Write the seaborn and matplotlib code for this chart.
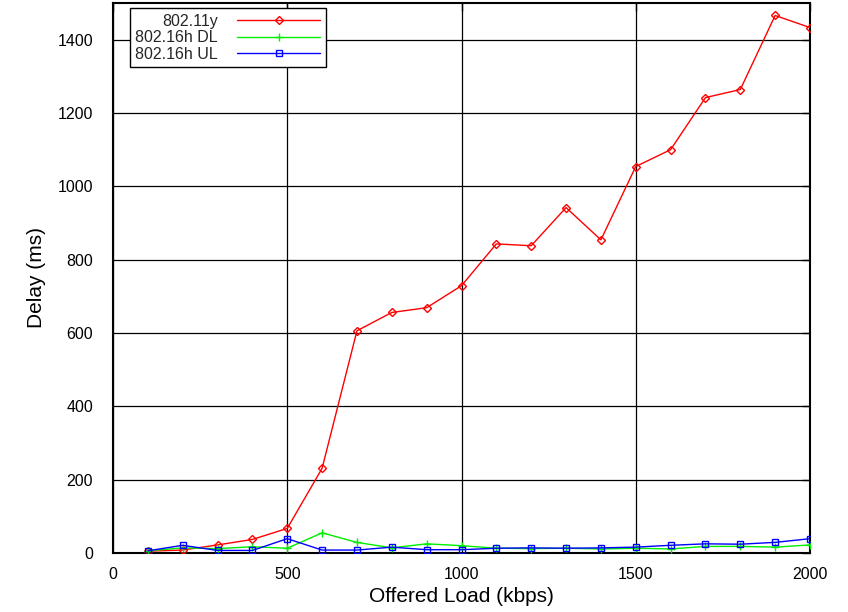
import numpy as np
import pandas as pd
import matplotlib
matplotlib.use("Agg")
import matplotlib.pyplot as plt
from matplotlib.lines import Line2D
import seaborn as sns

# Offered load (kbps) and measured delay (ms) for each scheme
load = [100, 200, 300, 400, 500, 600, 700, 800, 900, 1000,
        1100, 1200, 1300, 1400, 1500, 1600, 1700, 1800, 1900, 2000]
delay_11y = [5, 8, 22, 37, 67, 231, 606, 656, 669, 729,
             843, 838, 942, 854, 1054, 1100, 1242, 1264, 1466, 1433]
delay_16h_dl = [6, 14, 12, 17, 13, 55, 29, 14, 25, 20,
                13, 12, 13, 11, 13, 11, 18, 18, 16, 22]
delay_16h_ul = [6, 21, 7, 7, 39, 8, 8, 16, 9, 9,
                13, 14, 13, 14, 16, 21, 25, 24, 29, 39]

series_names = ["802.11y", "802.16h DL", "802.16h UL"]
series_values = [delay_11y, delay_16h_dl, delay_16h_ul]
series_colors = ["#ff0000", "#00ee00", "#0000ff"]
series_markers = ["D", "+", "s"]
series_msize = [4, 6, 4.5]

sns.set_theme(style="white")
plt.rcParams["font.family"] = ["Liberation Sans", "DejaVu Sans"]

fig = plt.figure(figsize=(8.48, 6.12), dpi=100)
ax = fig.add_axes([113 / 848, (612 - 553) / 612, (810 - 113) / 848, (553 - 3) / 612])

handles = []
for name, vals, col, mk, ms in zip(series_names, series_values, series_colors,
                                   series_markers, series_msize):
    df = pd.DataFrame({"load": load, "delay": vals})
    sns.lineplot(data=df, x="load", y="delay", ax=ax, color=col,
                 linewidth=1.0, marker=mk, markersize=ms,
                 markerfacecolor="none", markeredgecolor=col,
                 markeredgewidth=1.0, zorder=3)
    handles.append(Line2D([], [], color=col, linewidth=1.0, marker=mk,
                          markersize=ms, markerfacecolor="none",
                          markeredgecolor=col, markeredgewidth=1.0))

ax.set_xlim(0, 2000)
ax.set_ylim(0, 1500)
ax.set_xticks([0, 500, 1000, 1500, 2000])
ax.set_yticks([0, 200, 400, 600, 800, 1000, 1200, 1400])
ax.grid(True, color="black", linewidth=0.9)
ax.set_axisbelow(True)
for s in ax.spines.values():
    s.set_color("black")
    s.set_linewidth(1.5)
    s.set_visible(True)
ax.tick_params(axis="both", direction="in", length=6, width=1, colors="black",
               labelsize=11.5, right=True, top=True)
ax.tick_params(axis="x", pad=10)
ax.tick_params(axis="y", pad=14.4)

ax.set_xlabel("Offered Load (kbps)", fontsize=15, color="black", labelpad=4)
ax.set_ylabel("Delay (ms)", fontsize=15, color="black", labelpad=8)

leg = ax.legend(
    handles, series_names, loc="upper left", bbox_to_anchor=(0.024, 0.991),
    borderaxespad=0, markerfirst=False, fancybox=False, frameon=True,
    fontsize=11.5, handlelength=5.2, numpoints=1, labelspacing=0.1,
    borderpad=0.35, handletextpad=1.2,
)
leg.get_frame().set_edgecolor("black")
leg.get_frame().set_linewidth(1.0)
leg.get_frame().set_alpha(1)

fig.savefig("out.png", dpi=100)
